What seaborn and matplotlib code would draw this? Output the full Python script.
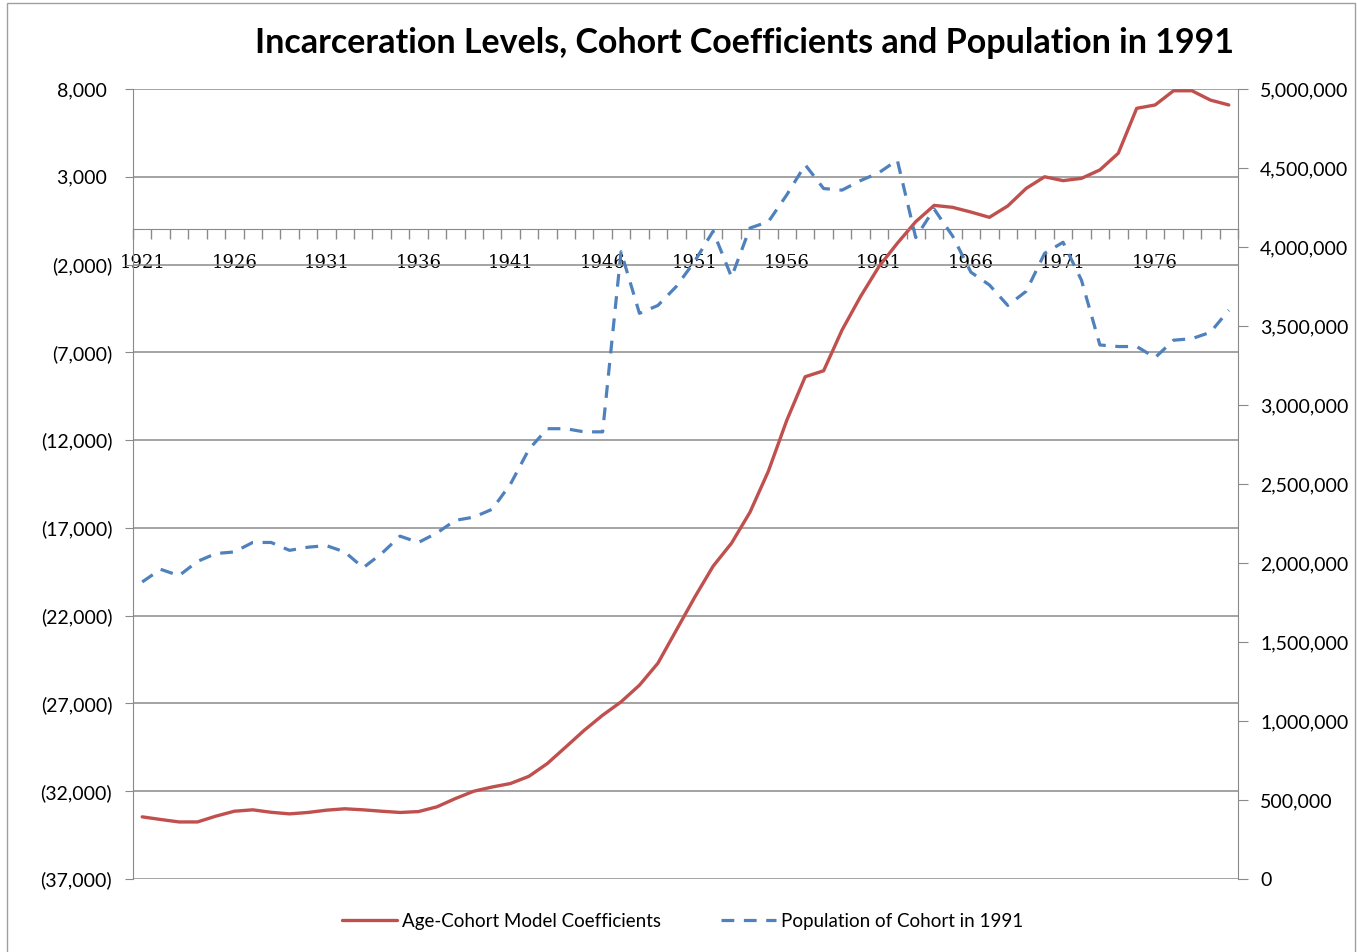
import numpy as np
import seaborn as sns
import matplotlib.pyplot as plt
import matplotlib.ticker as mtick
from matplotlib.patches import Rectangle

# data
years = list(range(1921, 1981))

coefficients = [
    -33460, -33610, -33750, -33750, -33420, -33140, -33060, -33200, -33290, -33210,
    -33080, -33000, -33060, -33140, -33210, -33160, -32890, -32420, -32000, -31760,
    -31560, -31150, -30420, -29480, -28530, -27670, -26910, -25960, -24710, -22830,
    -20950, -19180, -17870, -16110, -13770, -10870, -8390, -8050, -5730, -3830,
    -2120, -790, 440, 1370, 1260, 990, 690, 1340, 2340, 3000,
    2780, 2910, 3390, 4340, 6900, 7090, 7900, 7900, 7370, 7090,
]

population = [
    1880000, 1960000, 1920000, 2010000, 2060000, 2070000, 2130000, 2130000, 2080000, 2100000,
    2110000, 2070000, 1970000, 2060000, 2170000, 2130000, 2190000, 2270000, 2290000, 2340000,
    2500000, 2720000, 2850000, 2850000, 2830000, 2830000, 3970000, 3580000, 3630000, 3750000,
    3910000, 4100000, 3810000, 4120000, 4160000, 4330000, 4520000, 4370000, 4360000, 4420000,
    4470000, 4550000, 4060000, 4240000, 4070000, 3840000, 3760000, 3630000, 3720000, 3960000,
    4030000, 3790000, 3380000, 3370000, 3370000, 3300000, 3410000, 3420000, 3460000, 3600000,
]

title = "Incarceration Levels, Cohort Coefficients and Population in 1991"
coef_label = "Age-Cohort Model Coefficients"
pop_label = "Population of Cohort in 1991"

left_ticks = np.arange(-37000, 8001, 5000)
right_ticks = np.arange(0, 5000001, 500000)
label_years = years[::5]

red = "#C0504D"
blue = "#4F81BD"
gray = "#8a8a8a"

sns.set_style("white")
plt.rcParams['font.family'] = ['Lato', 'DejaVu Sans']
plt.rcParams['text.color'] = 'black'

W, H = 1357, 952
fig = plt.figure(figsize=(W / 100, H / 100), dpi=100)
ax = fig.add_axes([133 / W, 1 - 879 / H, (1238 - 133) / W, (879 - 89) / H])
ax2 = ax.twinx()

sns.lineplot(x=years, y=coefficients, ax=ax, color=red, lw=2.4,
             label=coef_label, legend=False, solid_joinstyle='round')
sns.lineplot(x=years, y=population, ax=ax2, color=blue, lw=2.3,
             linestyle=(0, (4, 3)), label=pop_label, legend=False)

# left axis
ax.set_ylim(-37000, 8000)
ax.set_yticks(left_ticks)
ax.yaxis.set_major_formatter(mtick.FuncFormatter(
    lambda v, p: f"({abs(v):,.0f})" if v < 0 else f"{v:,.0f} "))
ax.yaxis.grid(True, color=gray, lw=1.1)
ax.tick_params(axis='y', length=6, color=gray, pad=9, labelsize=14,
               labelcolor='black')

# x axis crossing at zero, ticks between categories
ax.set_xlim(1920.5, 1980.5)
ax.set_xticks(label_years)
ax.set_xticks(np.arange(1920.5, 1981, 1), minor=True)
ax.tick_params(axis='x', which='major', length=0, pad=18, labelsize=13,
               labelfontfamily='DejaVu Serif', labelcolor='black')
ax.tick_params(axis='x', which='minor', length=7, color=gray, width=1, bottom=True)
ax.spines['bottom'].set_position(('data', 0))
ax.spines['bottom'].set_color(gray)
ax.spines['left'].set_color(gray)
ax.spines['top'].set_visible(False)
ax.spines['right'].set_visible(False)

# right axis
ax2.set_ylim(0, 5000000)
ax2.set_yticks(right_ticks)
ax2.yaxis.set_major_formatter(mtick.StrMethodFormatter("{x:,.0f}"))
ax2.tick_params(axis='y', length=7, color=gray, pad=9, labelsize=14,
                labelcolor='black')
for side in ['top', 'bottom', 'left']:
    ax2.spines[side].set_visible(False)
ax2.spines['right'].set_color(gray)

for a in (ax, ax2):
    a.set_xlabel("")
    a.set_ylabel("")

fig.text(745 / W, 1 - 43 / H, title, ha='center', va='center',
         fontsize=24.5, fontweight='bold', color='black')

h1, l1 = ax.get_legend_handles_labels()
h2, l2 = ax2.get_legend_handles_labels()
fig.legend(h1 + h2, l1 + l2, loc='center', bbox_to_anchor=(683 / W, 1 - 921 / H),
           ncol=2, frameon=False, fontsize=13.5, handlelength=2.9,
           columnspacing=3.2, handletextpad=0.3, labelcolor='black')

fig.patches.append(Rectangle((7 / W, -0.01), (1355 - 7) / W, 1.01 - 3 / H,
                             transform=fig.transFigure, fill=False,
                             edgecolor='#a0a0a0', lw=1))

fig.savefig("out.png", dpi=100)
